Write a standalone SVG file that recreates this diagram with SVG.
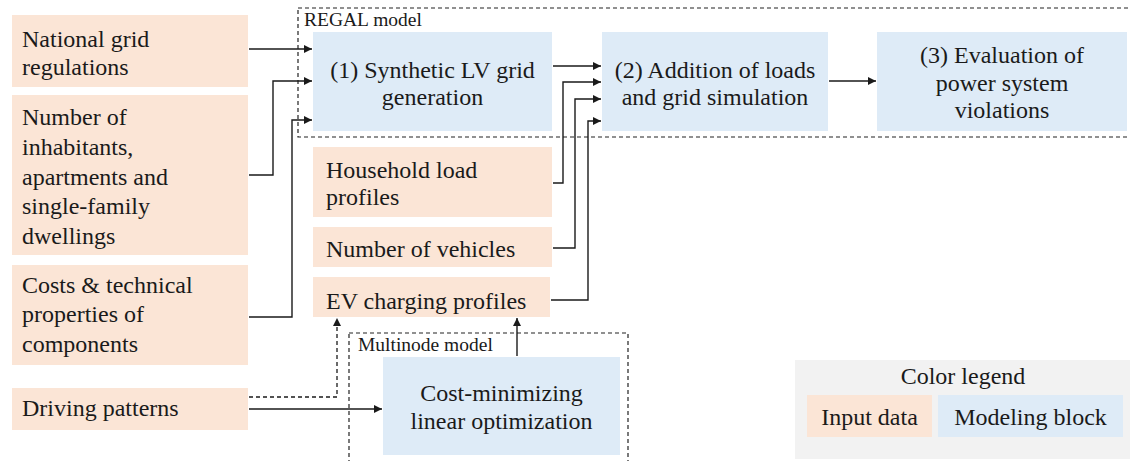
<svg xmlns="http://www.w3.org/2000/svg" width="1130" height="461" viewBox="0 0 1130 461">
  <style>
    .input { fill: #fbe5d6; }
    .block { fill: #deebf7; }
    .legend-bg { fill: #f2f2f2; }
    .frame { fill: none; stroke: #222; stroke-width: 1.2; stroke-dasharray: 4 3; }
    text { font-family: "Liberation Serif", "Times New Roman", serif; font-size: 24px; fill: #1a1a1a; }
    .mid { text-anchor: middle; }
    .small { font-size: 19.5px; }
    .wire { fill: none; stroke: #1a1a1a; stroke-width: 1.4; }
    .wire-dash { fill: none; stroke: #1a1a1a; stroke-width: 1.3; stroke-dasharray: 4 3; }
  </style>
  <defs>
    <marker id="arrow" viewBox="0 0 10 10" refX="10" refY="5" markerWidth="9" markerHeight="8" markerUnits="userSpaceOnUse" orient="auto">
      <path d="M0,0 L10,5 L0,10 z" fill="#1a1a1a"/>
    </marker>
  </defs>

  <rect width="1130" height="461" fill="#ffffff"/>

  <!-- model frames -->
  <g id="regal-frame">
    <rect class="frame" x="298" y="8" width="840" height="129"/>
    <text class="small" x="304" y="26">REGAL model</text>
  </g>
  <g id="multinode-frame">
    <rect class="frame" x="349" y="333" width="279" height="140"/>
    <text class="small" x="358" y="351">Multinode model</text>
  </g>

  <!-- input data -->
  <g id="national-grid">
    <rect class="input" x="12" y="15" width="236" height="72"/>
    <text x="22" y="47">National grid</text>
    <text x="22" y="75">regulations</text>
  </g>
  <g id="inhabitants">
    <rect class="input" x="12" y="95" width="236" height="160"/>
    <text x="22" y="125">Number of</text>
    <text x="22" y="155">inhabitants,</text>
    <text x="22" y="185">apartments and</text>
    <text x="22" y="214">single-family</text>
    <text x="22" y="244">dwellings</text>
  </g>
  <g id="costs">
    <rect class="input" x="12" y="265" width="236" height="100"/>
    <text x="22" y="293">Costs &amp; technical</text>
    <text x="22" y="322">properties of</text>
    <text x="22" y="352">components</text>
  </g>
  <g id="driving">
    <rect class="input" x="12" y="388" width="236" height="42"/>
    <text x="22" y="416">Driving patterns</text>
  </g>
  <g id="household">
    <rect class="input" x="313" y="147" width="239" height="70"/>
    <text x="326" y="178">Household load</text>
    <text x="326" y="205">profiles</text>
  </g>
  <g id="vehicles">
    <rect class="input" x="313" y="227" width="239" height="40"/>
    <text x="326" y="257">Number of vehicles</text>
  </g>
  <g id="ev-profiles">
    <rect class="input" x="313" y="277" width="237" height="40"/>
    <text x="326" y="309">EV charging profiles</text>
  </g>

  <!-- modeling blocks -->
  <g id="grid-generation">
    <rect class="block" x="313" y="32" width="239" height="99"/>
    <text class="mid" x="432.5" y="78">(1) Synthetic LV grid</text>
    <text class="mid" x="432.5" y="105">generation</text>
  </g>
  <g id="grid-simulation">
    <rect class="block" x="602" y="32" width="226" height="99"/>
    <text class="mid" x="715" y="78">(2) Addition of loads</text>
    <text class="mid" x="715" y="105">and grid simulation</text>
  </g>
  <g id="evaluation">
    <rect class="block" x="877" y="32" width="250" height="99"/>
    <text class="mid" x="1002" y="63">(3) Evaluation of</text>
    <text class="mid" x="1002" y="90.5">power system</text>
    <text class="mid" x="1002" y="118">violations</text>
  </g>
  <g id="optimization">
    <rect class="block" x="383" y="357" width="237" height="98"/>
    <text class="mid" x="501.5" y="401">Cost-minimizing</text>
    <text class="mid" x="501.5" y="429">linear optimization</text>
  </g>

  <!-- legend -->
  <g id="legend">
    <rect class="legend-bg" x="795" y="360" width="340" height="99"/>
    <text class="mid" x="963" y="384">Color legend</text>
    <rect class="input" x="807" y="395" width="125" height="42"/>
    <text class="mid" x="869.5" y="425">Input data</text>
    <rect class="block" x="938" y="395" width="185" height="42"/>
    <text class="mid" x="1030.5" y="425">Modeling block</text>
  </g>

  <!-- connectors -->
  <g id="connectors">
    <path class="wire" d="M249,49 H312" marker-end="url(#arrow)"/>
    <path class="wire" d="M249,175 H273 V81 H312" marker-end="url(#arrow)"/>
    <path class="wire" d="M249,317 H292 V120 H312" marker-end="url(#arrow)"/>
    <path class="wire" d="M553,66 H601" marker-end="url(#arrow)"/>
    <path class="wire" d="M553,183 H563 V82 H601" marker-end="url(#arrow)"/>
    <path class="wire" d="M553,248 H575 V99 H601" marker-end="url(#arrow)"/>
    <path class="wire" d="M551,300 H588 V121 H601" marker-end="url(#arrow)"/>
    <path class="wire" d="M829,81 H876" marker-end="url(#arrow)"/>
    <path class="wire-dash" d="M249,397 H337 V318" marker-end="url(#arrow)"/>
    <path class="wire" d="M249,409 H382" marker-end="url(#arrow)"/>
    <path class="wire" d="M517,356 V318" marker-end="url(#arrow)"/>
  </g>
</svg>
